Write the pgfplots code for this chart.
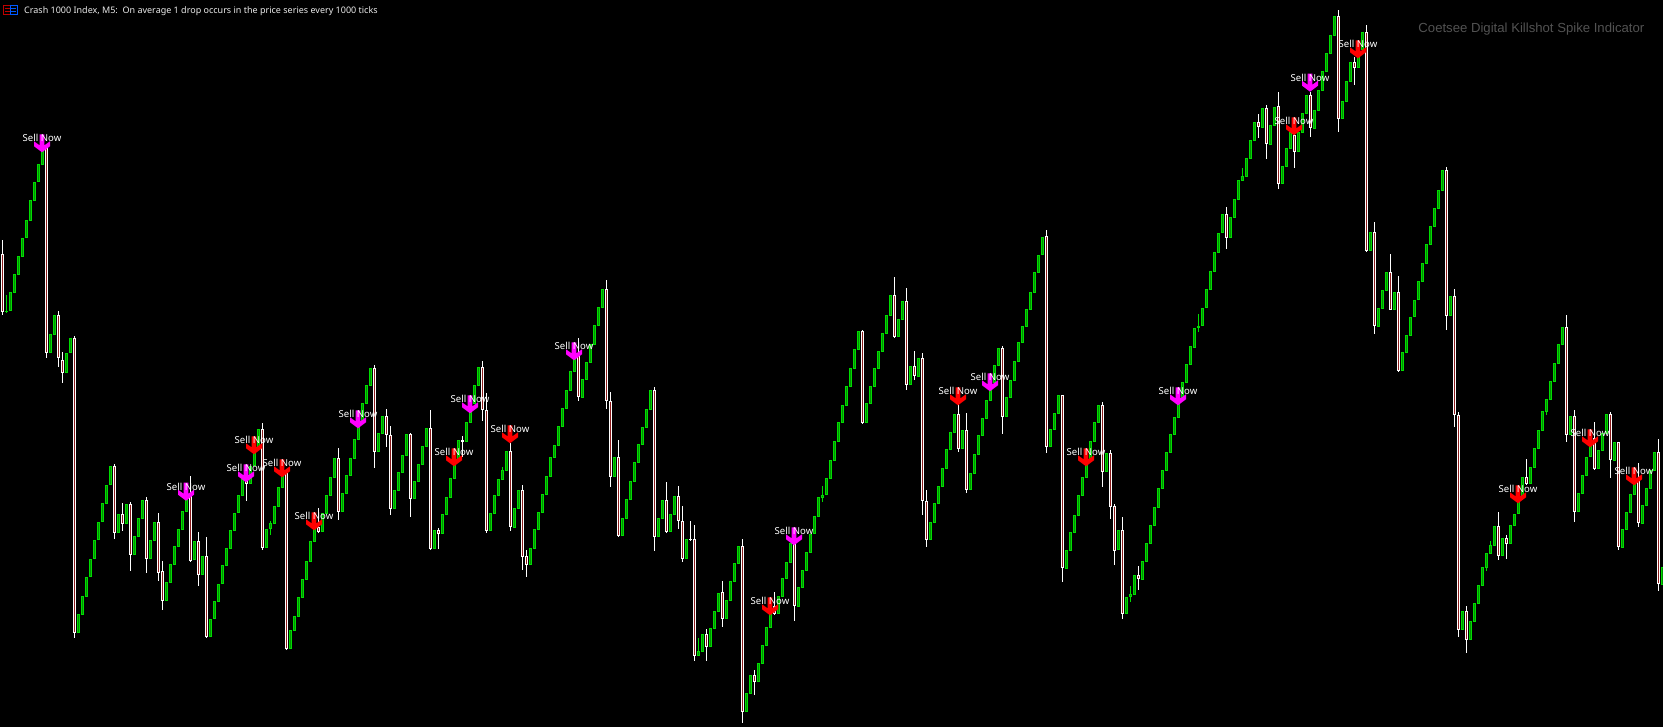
\documentclass[border=0pt]{standalone}
\usepackage{fontspec}
\usepackage{pgfplots}
\usepackage{pgfplotstable}
\pgfplotsset{compat=1.18}
\setmainfont{Liberation Sans}
\newfontfamily\ui{Noto Sans}

\definecolor{upedge}{HTML}{00DD00}
\definecolor{upfill}{HTML}{009000}
\definecolor{downfill}{HTML}{8B1A1A}
\definecolor{signal}{HTML}{FF00FF}

% chart pixels: i = bar number (x = 2.5 + 4 i), t b = body, h l = wick
\pgfplotstableread{
i t b
1 311 312
2 292 311
3 274 293
4 256 275
5 238 257
6 220 238
7 200 221
8 182 201
9 164 182
10 147 165
12 334 353
13 315 335
16 353 373
17 338 353
19 614 633
20 596 615
21 577 597
22 559 577
23 540 559
24 522 540
25 503 522
26 485 504
27 466 485
29 514 533
31 504 524
33 536 555
34 518 537
35 500 519
37 540 559
38 522 541
41 582 601
42 564 583
43 546 565
44 529 547
45 511 530
46 493 512
48 541 560
50 556 575
52 619 637
53 601 619
54 584 602
55 565 584
56 548 566
57 530 549
58 513 531
59 495 513
60 479 496
62 466 484
63 447 466
64 429 448
66 529 548
67 523 529
68 506 524
69 487 507
70 470 488
72 630 649
73 616 631
74 597 617
75 579 598
76 561 580
77 541 562
78 527 542
80 513 532
81 495 514
82 477 496
83 458 478
85 493 512
86 475 494
87 458 476
88 439 459
89 422 440
90 403 422
91 385 404
92 368 386
94 433 452
95 416 434
98 490 509
99 472 491
100 455 473
101 434 456
103 481 499
104 464 482
105 446 465
106 428 447
108 530 549
110 514 534
111 497 515
112 478 498
113 459 479
114 440 460
116 422 442
117 404 423
118 385 404
119 367 386
122 513 531
123 495 514
124 479 496
125 470 480
126 451 471
128 508 528
129 490 509
132 548 565
133 529 549
134 512 530
135 494 513
136 476 495
137 457 477
138 445 458
139 426 446
140 408 427
141 390 409
142 371 391
143 353 372
145 379 398
146 362 380
147 344 363
148 325 345
149 307 326
150 289 308
153 457 477
155 518 536
156 499 519
157 481 500
158 462 482
159 444 463
160 427 445
161 409 428
162 390 410
164 518 537
165 500 519
167 514 532
168 496 515
171 539 559
174 651 656
175 634 652
177 628 647
178 611 629
179 593 612
181 600 619
182 581 601
183 563 582
184 546 564
186 693 712
187 675 694
189 663 682
190 645 664
191 627 646
192 609 628
194 596 614
195 578 597
196 562 579
197 543 563
199 587 607
200 570 588
201 552 571
202 534 553
203 516 534
204 497 517
205 495 498
206 478 495
207 460 479
208 441 461
209 422 442
210 405 423
211 386 406
212 368 387
213 349 369
214 331 350
216 403 423
217 386 404
218 368 387
219 351 369
220 333 352
221 315 334
222 295 316
224 319 337
225 301 320
227 366 385
229 358 377
232 522 540
233 503 523
234 486 504
235 468 487
236 449 469
237 432 450
238 414 433
240 430 449
242 473 490
243 454 474
244 435 455
245 418 436
246 400 419
247 383 401
248 365 383
249 348 366
251 397 417
252 380 398
253 361 381
254 342 362
255 326 343
256 309 327
257 292 310
258 272 293
259 255 273
260 237 255
262 429 447
263 413 430
264 395 414
266 550 569
267 532 551
268 515 533
269 495 516
270 477 496
271 459 478
272 441 460
273 422 442
274 405 423
276 453 472
279 530 550
281 597 614
282 594 597
283 575 595
285 561 580
286 543 562
287 525 544
288 507 526
289 488 508
290 470 489
291 452 471
292 434 453
293 417 435
294 400 418
295 382 400
296 364 383
297 346 365
298 328 348
299 326 328
300 308 326
301 289 308
302 271 290
303 252 272
304 233 253
305 214 233
307 217 238
308 199 218
309 180 200
310 176 181
311 158 177
312 140 159
313 122 141
315 108 128
317 125 145
318 107 126
320 166 184
321 148 167
322 132 149
324 132 152
325 113 133
326 95 114
328 110 129
329 90 111
330 71 91
331 53 72
332 35 54
333 16 36
335 101 119
336 81 102
337 62 82
339 50 68
340 32 50
342 232 251
344 308 327
345 290 309
346 272 291
348 292 310
350 352 371
351 335 353
352 317 336
353 300 317
354 281 300
355 263 282
356 244 264
357 226 245
358 208 227
359 190 209
360 170 191
362 296 316
365 611 630
367 621 640
368 603 622
369 585 604
370 567 586
371 553 568
372 545 554
373 526 546
375 538 556
377 525 544
378 514 526
379 497 514
380 477 497
382 467 484
383 448 468
384 430 449
385 411 431
386 399 412
387 381 400
388 363 382
389 344 364
390 327 345
392 416 435
394 493 512
395 475 494
396 457 476
397 438 457
399 450 469
400 433 451
401 414 434
403 442 461
405 529 548
406 512 530
407 494 513
408 479 495
410 505 524
411 488 506
412 470 489
413 452 471
415 567 585
}\upbars

\pgfplotstableread{
i t h l
1 311 295 313
67 523 521 535
125 470 467 480
174 651 638 656
205 495 486 502
282 594 586 602
299 326 314 332
310 176 168 181
371 553 553 571
372 545 541 554
386 399 399 415
}\upwicks

\pgfplotstableread{
i t b h l
0 254 312 240 315
11 147 353 147 358
14 315 358 311 367
15 360 373 352 383
18 338 633 336 638
28 466 533 464 539
30 514 524 503 531
32 504 555 502 571
36 500 559 497 573
39 522 573 513 581
40 571 601 561 610
47 493 561 476 562
49 541 575 532 586
51 556 637 537 638
61 480 484 478 501
65 429 548 423 550
71 472 649 470 650
79 527 532 508 533
84 458 512 448 520
93 368 452 365 468
96 416 435 409 447
97 435 509 426 515
102 434 499 433 517
107 428 549 410 550
109 530 534 528 549
115 440 442 436 457
120 367 410 361 421
121 410 531 393 533
127 451 527 443 531
130 490 557 485 570
131 556 565 550 577
144 353 397 338 401
151 289 401 280 409
152 401 477 392 487
154 457 536 440 537
163 390 537 387 551
166 500 532 482 533
169 496 521 486 529
170 521 559 506 562
172 539 540 521 541
173 539 656 525 661
176 634 647 629 661
180 592 619 581 627
185 546 712 539 723
188 675 682 670 695
193 606 614 592 615
198 543 606 540 621
215 331 423 330 424
223 295 337 277 338
226 301 385 288 390
228 366 376 351 380
230 358 501 353 515
231 501 540 490 547
239 414 449 403 452
241 430 490 413 493
250 348 417 346 434
261 236 447 230 453
265 395 568 395 582
275 405 472 402 487
277 453 507 450 519
278 506 551 504 565
280 530 614 517 619
284 575 579 566 590
306 214 238 207 249
314 122 127 114 138
316 108 144 105 159
319 106 184 92 189
323 135 152 130 168
327 95 128 92 137
334 16 119 10 132
338 62 68 57 85
341 32 251 25 252
343 232 326 222 334
347 272 310 254 310
349 292 371 276 372
361 170 316 167 330
363 296 415 289 427
364 415 630 412 637
366 611 640 606 653
374 526 556 512 560
376 538 544 535 559
381 477 484 459 485
391 327 435 315 442
393 416 512 410 522
398 438 469 422 470
402 414 460 412 478
404 442 547 442 550
409 479 523 463 527
414 452 584 439 591
}\downbars

% signal arrows: tip position in chart pixels
\pgfplotstableread{
x y
42 152.3
186 500.7
246 482.3
358 428.3
470 413.3
574 360.3
794 545.3
990 391.3
1178 405.3
1310 91.7
}\magentasignals

\pgfplotstableread{
x y
254 454.3
282 477.3
314 530.3
454 466.3
510 443.3
770 615.3
958 405.3
1086 466.3
1294 135.3
1358 58.3
1518 503.3
1590 447.3
1634 485.3
}\redsignals

\pgfdeclareplotmark{sellarrow}{%
  \pgfpathmoveto{\pgfqpoint{0pt}{0pt}}%
  \pgfpathlineto{\pgfqpoint{8pt}{6pt}}%
  \pgfpathlineto{\pgfqpoint{8pt}{11pt}}%
  \pgfpathlineto{\pgfqpoint{2.4pt}{7pt}}%
  \pgfpathlineto{\pgfqpoint{2.4pt}{18pt}}%
  \pgfpathlineto{\pgfqpoint{-2.4pt}{18pt}}%
  \pgfpathlineto{\pgfqpoint{-2.4pt}{7pt}}%
  \pgfpathlineto{\pgfqpoint{-8pt}{11pt}}%
  \pgfpathlineto{\pgfqpoint{-8pt}{6pt}}%
  \pgfpathclose
  \pgfusepathqfill
}

\pgfplotsset{
  signals/.style={only marks, mark=sellarrow, color=#1,
    nodes near coords={Sell Now},
    every node near coord/.style={anchor=center, yshift=14pt, inner sep=0pt,
      text=white, font=\ui\fontsize{9.6}{10}\selectfont}},
  bars/.style 2 args={only marks, mark=none, mark size=0pt,
    error bars/.cd, y dir=both, y explicit, error mark=none,
    error bar style={color=#1, line width=#2, shorten <=0pt, shorten >=0pt}},
}

\begin{document}
\begin{tikzpicture}
\begin{axis}[
  scale only axis, width=1663pt, height=727pt,
  xmin=0, xmax=1663, ymin=0, ymax=727, y dir=reverse,
  ticks=none, axis line style={draw=none},
  axis background/.style={fill=black}]

  % wicks
  \addplot[bars={white}{1pt}] table[
    x expr=2.5+4*\thisrow{i}, y=t,
    y error plus expr=\thisrow{l}-\thisrow{t},
    y error minus expr=\thisrow{t}-\thisrow{h}] {\downbars};
  \addplot[bars={upedge}{1pt}] table[
    x expr=2.5+4*\thisrow{i}, y=t,
    y error plus expr=\thisrow{l}-\thisrow{t},
    y error minus expr=\thisrow{t}-\thisrow{h}] {\upwicks};

  % bodies, edge then middle
  \addplot[bars={white}{3pt}] table[
    x expr=2.5+4*\thisrow{i}, y=t,
    y error plus expr=\thisrow{b}-\thisrow{t}, y error minus expr=0] {\downbars};
  \addplot[bars={downfill}{1pt}] table[
    x expr=2.5+4*\thisrow{i}, y expr=\thisrow{t}+1,
    y error plus expr={max(\thisrow{b}-\thisrow{t}-2,0)}, y error minus expr=0] {\downbars};
  \addplot[bars={upedge}{3pt}] table[
    x expr=2.5+4*\thisrow{i}, y=t,
    y error plus expr=\thisrow{b}-\thisrow{t}, y error minus expr=0] {\upbars};
  \addplot[bars={upfill}{1pt}] table[
    x expr=2.5+4*\thisrow{i}, y expr=\thisrow{t}+1,
    y error plus expr={max(\thisrow{b}-\thisrow{t}-2,0)}, y error minus expr=0] {\upbars};

  \addplot[signals=signal] table[x=x, y=y] {\magentasignals};
  \addplot[signals=red] table[x=x, y=y] {\redsignals};

  % window header
  \draw[color=red!75!black] (axis cs:3.5,5) rectangle (axis cs:10,14.5);
  \draw[color=blue!65!cyan] (axis cs:10,5) rectangle (axis cs:17.5,14.5);
  \draw[color=red!75!black] (axis cs:5,8) -- (axis cs:9.5,8) (axis cs:5,11.5) -- (axis cs:9.5,11.5);
  \draw[color=blue!65!cyan] (axis cs:11,8) -- (axis cs:16,8) (axis cs:11,11.5) -- (axis cs:16,11.5);
  \node[anchor=west, inner sep=0pt, text=white!92!black, font=\ui\fontsize{9.0}{10}\selectfont]
    at (axis cs:24,11) {Crash 1000 Index, M5:\ \ On average 1 drop occurs in the price series every 1000 ticks};
  \node[anchor=east, inner sep=0pt, text=black!68!white, font=\fontsize{13.15}{14}\selectfont]
    at (axis cs:1644.5,29) {Coetsee Digital Killshot Spike Indicator};
\end{axis}
\end{tikzpicture}
\end{document}
